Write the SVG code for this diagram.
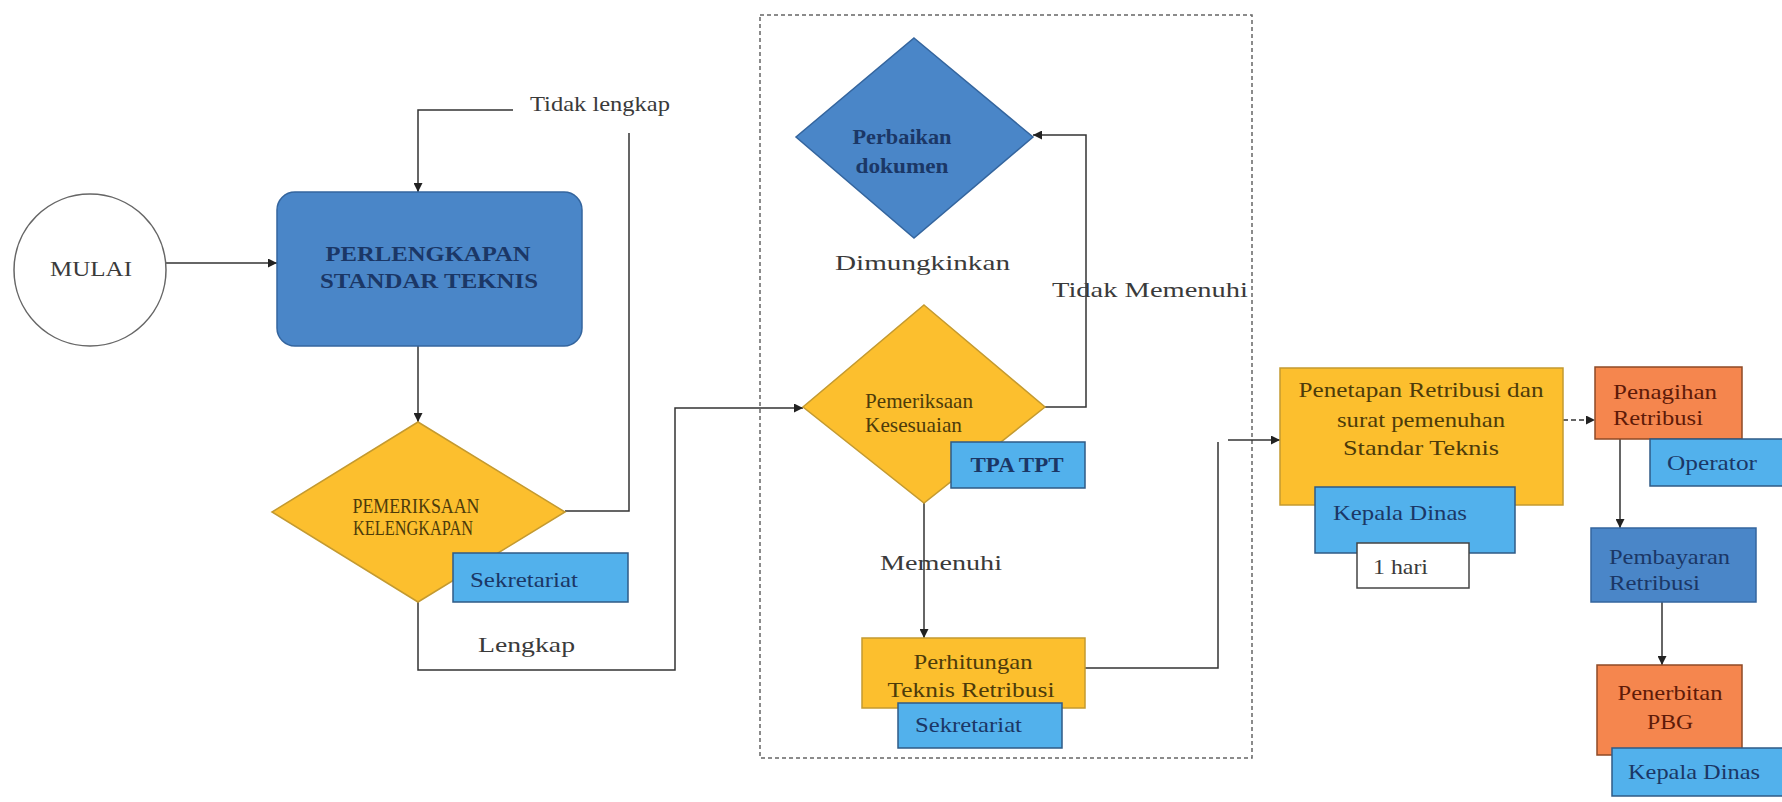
<svg xmlns="http://www.w3.org/2000/svg" width="1782" height="802" viewBox="0 0 1782 802">
<defs>
<marker id="arr" viewBox="0 0 10 10" refX="10" refY="5" markerWidth="9" markerHeight="9" markerUnits="userSpaceOnUse" orient="auto"><path d="M0,0 L10,5 L0,10 z" fill="#222"/></marker>
</defs>
<style>
text { font-family: "Liberation Serif", "Times New Roman", serif; font-size: 22px; }
.conn { fill: none; stroke: #333; stroke-width: 1.5; }
.conn-a { fill: none; stroke: #333; stroke-width: 1.5; marker-end: url(#arr); }
.dash { stroke-dasharray: 5 3; }
.frame { fill: none; stroke: #666; stroke-width: 1.5; stroke-dasharray: 4 3; }
.start { fill: #fff; stroke: #666; stroke-width: 1.5; }
.gold { fill: #fcbf2e; stroke: #c49a30; stroke-width: 1.5; }
.blue { fill: #4a86c8; stroke: #34659e; stroke-width: 1.5; }
.lblue { fill: #52b1ec; stroke: #2f5b86; stroke-width: 1.5; }
.orange { fill: #f5864e; stroke: #8e4a26; stroke-width: 1.5; }
.white { fill: #fff; stroke: #444; stroke-width: 1.5; }
.t-navy { fill: #1b3766; }
.t-brown { fill: #4d3b0a; }
.t-red { fill: #5e1a08; }
.t-gray { fill: #3a3a3a; }
.bold { font-weight: bold; }
.mid { text-anchor: middle; }
</style>
<rect x="0" y="0" width="1782" height="802" fill="#fff"/>

<rect id="container" class="frame" x="760" y="15" width="492" height="743"/>

<g id="connectors">
<path class="conn-a" d="M166,263 H277"/>
<path class="conn-a" d="M513,110 H418 V192"/>
<path class="conn-a" d="M418,346 V422"/>
<path class="conn" d="M565,511 H629 V133"/>
<path class="conn-a" d="M418,602 V670 H675 V408 H803"/>
<path class="conn-a" d="M1045,407 H1086 V135 H1033"/>
<path class="conn-a" d="M924,503 V638"/>
<path class="conn" d="M1085,668 H1218 V442"/>
<path class="conn-a" d="M1228,440 H1280"/>
<path class="conn-a dash" d="M1563,420 H1595"/>
<path class="conn-a" d="M1620,439 V528"/>
<path class="conn-a" d="M1662,602 V665"/>
</g>

<g id="labels">
<text class="t-gray" x="530" y="111" textLength="140" lengthAdjust="spacingAndGlyphs">Tidak lengkap</text>
<text class="t-gray" x="478" y="652" textLength="97" lengthAdjust="spacingAndGlyphs">Lengkap</text>
<text class="t-gray" x="835" y="270" font-size="23" textLength="175" lengthAdjust="spacingAndGlyphs">Dimungkinkan</text>
<text class="t-gray" x="1052" y="297" font-size="23" textLength="196" lengthAdjust="spacingAndGlyphs">Tidak Memenuhi</text>
<text class="t-gray" x="880" y="570" textLength="122" lengthAdjust="spacingAndGlyphs">Memenuhi</text>
</g>

<g id="mulai">
<circle class="start" cx="90" cy="270" r="76"/>
<text class="t-gray mid" x="91" y="276" font-size="24" textLength="82" lengthAdjust="spacingAndGlyphs">MULAI</text>
</g>

<g id="perlengkapan">
<rect class="blue" x="277" y="192" width="305" height="154" rx="18"/>
<text class="t-navy bold mid" x="428" y="261" font-size="24" textLength="205" lengthAdjust="spacingAndGlyphs">PERLENGKAPAN</text>
<text class="t-navy bold mid" x="429" y="288" font-size="24" textLength="218" lengthAdjust="spacingAndGlyphs">STANDAR TEKNIS</text>
</g>

<g id="pemeriksaan-kelengkapan">
<polygon class="gold" points="418,422 565,512 418,602 272,512"/>
<text class="t-brown mid" x="416" y="513" font-size="14" textLength="127" lengthAdjust="spacingAndGlyphs">PEMERIKSAAN</text>
<text class="t-brown mid" x="413" y="535" font-size="14" textLength="120" lengthAdjust="spacingAndGlyphs">KELENGKAPAN</text>
</g>

<g id="sekretariat-1">
<rect class="lblue" x="453" y="553" width="175" height="49"/>
<text class="t-navy" x="470" y="587" textLength="108" lengthAdjust="spacingAndGlyphs">Sekretariat</text>
</g>

<g id="perbaikan">
<polygon class="blue" points="914,38 1033,137 914,238 796,137"/>
<text class="t-navy bold mid" x="902" y="144" textLength="99" lengthAdjust="spacingAndGlyphs">Perbaikan</text>
<text class="t-navy bold mid" x="902" y="173" textLength="93" lengthAdjust="spacingAndGlyphs">dokumen</text>
</g>

<g id="pemeriksaan-kesesuaian">
<polygon class="gold" points="924,305 1045,407 924,503 803,407"/>
<text class="t-brown" x="865" y="408" font-size="15" textLength="108" lengthAdjust="spacingAndGlyphs">Pemeriksaan</text>
<text class="t-brown" x="865" y="432" font-size="15" textLength="97" lengthAdjust="spacingAndGlyphs">Kesesuaian</text>
</g>

<g id="tpa-tpt">
<rect class="lblue" x="951" y="442" width="134" height="46"/>
<text class="t-navy bold mid" x="1017" y="472" font-size="21" textLength="93" lengthAdjust="spacingAndGlyphs">TPA TPT</text>
</g>

<g id="perhitungan">
<rect class="gold" x="862" y="638" width="223" height="70"/>
<text class="t-brown mid" x="973" y="669" textLength="119" lengthAdjust="spacingAndGlyphs">Perhitungan</text>
<text class="t-brown mid" x="971" y="697" textLength="167" lengthAdjust="spacingAndGlyphs">Teknis Retribusi</text>
</g>

<g id="sekretariat-2">
<rect class="lblue" x="898" y="703" width="164" height="45"/>
<text class="t-navy" x="915" y="732" textLength="107" lengthAdjust="spacingAndGlyphs">Sekretariat</text>
</g>

<g id="penetapan">
<rect class="gold" x="1280" y="368" width="283" height="137"/>
<text class="t-brown mid" x="1421" y="397" textLength="245" lengthAdjust="spacingAndGlyphs">Penetapan Retribusi dan</text>
<text class="t-brown mid" x="1421" y="427" textLength="168" lengthAdjust="spacingAndGlyphs">surat pemenuhan</text>
<text class="t-brown mid" x="1421" y="455" textLength="156" lengthAdjust="spacingAndGlyphs">Standar Teknis</text>
</g>

<g id="kepala-dinas-1">
<rect class="lblue" x="1315" y="487" width="200" height="66"/>
<text class="t-navy" x="1333" y="520" textLength="134" lengthAdjust="spacingAndGlyphs">Kepala Dinas</text>
</g>

<g id="satu-hari">
<rect class="white" x="1357" y="543" width="112" height="45"/>
<text class="t-gray" x="1373" y="574" textLength="55" lengthAdjust="spacingAndGlyphs">1 hari</text>
</g>

<g id="penagihan">
<rect class="orange" x="1595" y="367" width="147" height="72"/>
<text class="t-red" x="1613" y="399" textLength="104" lengthAdjust="spacingAndGlyphs">Penagihan</text>
<text class="t-red" x="1613" y="425" textLength="90" lengthAdjust="spacingAndGlyphs">Retribusi</text>
</g>

<g id="operator">
<rect class="lblue" x="1650" y="439" width="140" height="47"/>
<text class="t-navy" x="1667" y="470" textLength="90" lengthAdjust="spacingAndGlyphs">Operator</text>
</g>

<g id="pembayaran">
<rect class="blue" x="1591" y="528" width="165" height="74"/>
<text class="t-navy" x="1609" y="564" textLength="121" lengthAdjust="spacingAndGlyphs">Pembayaran</text>
<text class="t-navy" x="1609" y="590" textLength="91" lengthAdjust="spacingAndGlyphs">Retribusi</text>
</g>

<g id="penerbitan">
<rect class="orange" x="1597" y="665" width="145" height="90"/>
<text class="t-red mid" x="1670" y="700" textLength="105" lengthAdjust="spacingAndGlyphs">Penerbitan</text>
<text class="t-red mid" x="1670" y="729" textLength="46" lengthAdjust="spacingAndGlyphs">PBG</text>
</g>

<g id="kepala-dinas-2">
<rect class="lblue" x="1612" y="748" width="178" height="48"/>
<text class="t-navy" x="1628" y="779" textLength="132" lengthAdjust="spacingAndGlyphs">Kepala Dinas</text>
</g>
</svg>
